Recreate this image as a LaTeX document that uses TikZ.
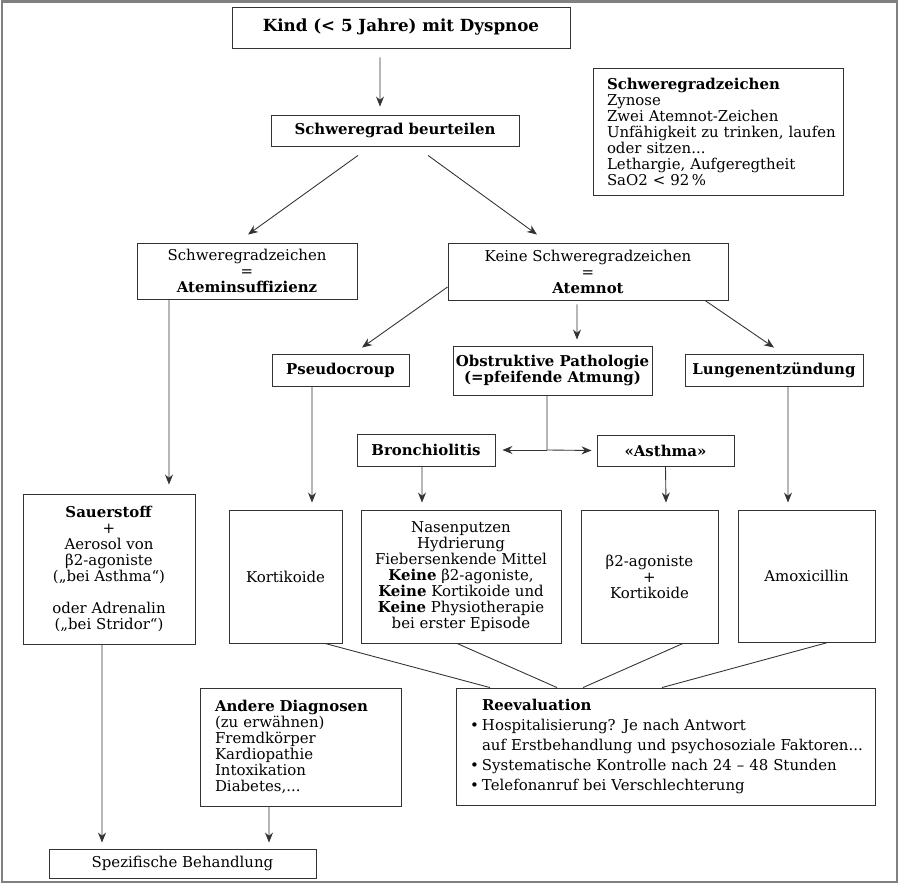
\documentclass[tikz,border=0pt]{standalone}
\usepackage{fontspec}
\setmainfont{DejaVu Serif}
\usetikzlibrary{arrows.meta,calc}
\tikzset{
  box/.style={
    draw=black!80,
    line width=0.5pt,
    inner sep=0pt,
    align=center,
    font=\fontsize{8.5}{9.1}\selectfont
  },
  titlebox/.style={
    box,
    font=\fontsize{9.5}{11}\selectfont
  },
  listbox/.style={
    box,
    align=left
  },
  arr/.style={
    draw=black!80,
    line width=0.5pt,
    -{Stealth[length=2mm,width=1.6mm]}
  },
  link/.style={
    draw=black!80,
    line width=0.5pt
  },
  frame/.style={
    draw=black!50,
    line width=1.3pt
  }
}

\begin{document}
\begin{tikzpicture}
  \useasboundingbox (0,0) rectangle (18,-17.7);
  \draw[frame] (0.04,-0.03) rectangle (17.94,-17.64);

  % top
  \node[titlebox,minimum width=6.76cm,minimum height=0.82cm] (kind) at (8.02,-0.55)
    {\textbf{Kind (< 5 Jahre) mit Dyspnoe}};
  \node[box,minimum width=4.96cm,minimum height=0.62cm] (beurteilen) at (7.90,-2.61)
    {\textbf{Schweregrad beurteilen}};
  \node[listbox,text width=4.44cm,inner xsep=0.28cm,minimum height=2.54cm] (zeichen) at (14.36,-2.63)
    {\noindent\textbf{Schweregradzeichen}\\Zynose\\Zwei Atemnot-Zeichen\\\mbox{Unfähigkeit zu trinken, laufen}\\oder sitzen...\\Lethargie, Aufgeregtheit\\SaO2 < 92\,\%};

  % severity
  \node[box,minimum width=4.4cm,minimum height=1.12cm] (insuff) at (4.94,-5.42)
    {Schweregradzeichen\\=\\\textbf{Ateminsuffizienz}};
  \node[box,minimum width=5.6cm,minimum height=1.14cm] (keine) at (11.76,-5.43)
    {Keine Schweregradzeichen\\=\\\textbf{Atemnot}};

  % diagnoses
  \node[box,minimum width=2.74cm,minimum height=0.64cm] (pseudo) at (6.81,-7.40)
    {\textbf{Pseudocroup}};
  \node[box,minimum width=3.98cm,minimum height=0.98cm] (obstr) at (11.05,-7.41)
    {\textbf{Obstruktive Pathologie}\\\textbf{(=pfeifende Atmung)}};
  \node[box,minimum width=3.56cm,minimum height=0.64cm] (lungen) at (15.48,-7.40)
    {\textbf{Lungenentzündung}};
  \node[box,minimum width=2.76cm,minimum height=0.64cm] (bronch) at (8.52,-9.00)
    {\textbf{Bronchiolitis}};
  \node[box,minimum width=2.74cm,minimum height=0.62cm] (asthma) at (13.31,-9.01)
    {\textbf{«Asthma»}};

  % treatments
  \node[box,minimum width=3.44cm,minimum height=3.0cm] (sauer) at (2.18,-11.38)
    {\textbf{Sauerstoff}\\+\\Aerosol von\\β2-agoniste\\(„bei Asthma“)\\[9pt]oder Adrenalin\\(„bei Stridor“)};
  \node[box,minimum width=2.26cm,minimum height=2.66cm] (korti) at (5.71,-11.53)
    {Kortikoide};
  \node[box,minimum width=4.0cm,minimum height=2.66cm] (nasen) at (9.22,-11.53)
    {Nasenputzen\\Hydrierung\\Fiebersenkende Mittel\\\textbf{Keine} β2-agoniste,\\\textbf{Keine} Kortikoide und\\\textbf{Keine} Physiotherapie\\bei erster Episode};
  \node[box,minimum width=2.74cm,minimum height=2.66cm] (betaag) at (12.99,-11.53)
    {β2-agoniste\\+\\Kortikoide};
  \node[box,minimum width=2.74cm,minimum height=2.64cm] (amoxi) at (16.13,-11.52)
    {Amoxicillin};

  % bottom
  \node[listbox,text width=7.82cm,inner xsep=0.28cm,minimum height=2.34cm,font=\fontsize{8.5}{11.3}\selectfont] (reeval) at (13.31,-14.93)
    {\noindent\hspace*{0.24cm}\textbf{Reevaluation}\\
     \makebox[0.24cm][l]{•}Hospitalisierung? Je nach Antwort\\
     \hspace*{0.24cm}\mbox{auf Erstbehandlung und psychosoziale Faktoren...}\\
     \makebox[0.24cm][l]{•}Systematische Kontrolle nach 24 – 48 Stunden\\
     \makebox[0.24cm][l]{•}Telefonanruf bei Verschlechterung};
  \node[listbox,text width=3.42cm,inner xsep=0.30cm,minimum height=2.36cm] (andere) at (6.01,-14.94)
    {\noindent\textbf{Andere Diagnosen}\\(zu erwähnen)\\Fremdkörper\\Kardiopathie\\Intoxikation\\Diabetes,...};
  \node[box,minimum width=5.34cm,minimum height=0.58cm] (spez) at (3.65,-17.27)
    {Spezifische Behandlung};

  % connectors
  \draw[arr] ([xshift=-0.42cm,yshift=-0.18cm]kind.south) -- ([xshift=-0.30cm,yshift=0.16cm]beurteilen.north);
  \draw[arr] ([xshift=-0.74cm,yshift=-0.18cm]beurteilen.south) -- ([xshift=0.02cm,yshift=0.16cm]insuff.north);
  \draw[arr] ([xshift=0.66cm,yshift=-0.18cm]beurteilen.south) -- ([xshift=-1.02cm,yshift=0.16cm]keine.north);
  \draw[arr] ([yshift=-0.31cm]keine.west) -- ([xshift=0.43cm,yshift=0.12cm]pseudo.north);
  \draw[arr] ([xshift=-0.22cm,yshift=-0.08cm]keine.south) -- ([xshift=0.49cm,yshift=0.12cm]obstr.north);
  \draw[arr] ([xshift=2.34cm]keine.south) -- ([yshift=0.12cm]lungen.north);

  \coordinate (split) at (10.94,-9.0);
  \draw[link] ([xshift=-0.11cm]obstr.south) -- (split);
  \draw[arr] (split) -- ([xshift=0.14cm]bronch.east);
  \draw[arr] (split) -- ([xshift=-0.10cm]asthma.west);

  \draw[arr] ([xshift=-1.56cm]insuff.south) -- ([xshift=1.2cm,yshift=0.18cm]sauer.north);
  \draw[arr] ([xshift=-0.57cm]pseudo.south) -- ([xshift=0.53cm,yshift=0.14cm]korti.north);
  \draw[arr] ([xshift=-0.08cm]bronch.south) -- ([xshift=-0.78cm,yshift=0.14cm]nasen.north);
  \draw[arr] (asthma.south) -- ([xshift=0.33cm,yshift=0.14cm]betaag.north);
  \draw[arr] ([xshift=0.28cm]lungen.south) -- ([xshift=-0.37cm,yshift=0.14cm]amoxi.north);

  \draw[link] ([xshift=0.79cm]korti.south) -- ([xshift=-3.51cm]reeval.north);
  \draw[link] ([xshift=-0.08cm]nasen.south) -- ([xshift=-2.17cm]reeval.north);
  \draw[link] ([xshift=0.67cm]betaag.south) -- ([xshift=-1.65cm]reeval.north);
  \draw[link] ([xshift=0.43cm]amoxi.south) -- ([xshift=-0.07cm]reeval.north);

  \draw[arr] ([xshift=-0.14cm]sauer.south) -- ([xshift=-1.61cm,yshift=0.12cm]spez.north);
  \draw[arr] ([xshift=-0.63cm]andere.south) -- ([xshift=1.73cm,yshift=0.12cm]spez.north);
\end{tikzpicture}
\end{document}
